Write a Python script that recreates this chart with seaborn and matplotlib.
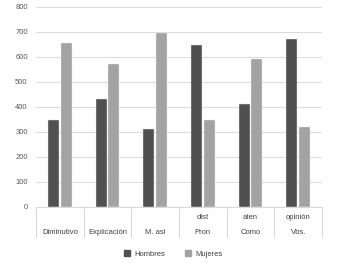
import matplotlib
matplotlib.use("Agg")
import matplotlib.pyplot as plt
import seaborn as sns
import pandas as pd
from matplotlib.transforms import blended_transform_factory
from matplotlib.lines import Line2D

categories = ["Diminutivo", "Explicación", "M. asi", "Pron", "Como", "Vbs."]
top_labels = ["", "", "", "dist", "aten", "opinión"]
hombres = [348, 430, 310, 648, 410, 672]
mujeres = [655, 570, 695, 348, 590, 320]
series = ["Hombres", "Mujeres"]
colors = ["#505050", "#a3a3a3"]

df = pd.DataFrame({
    "cat": categories * 2,
    "val": hombres + mujeres,
    "serie": [series[0]] * 6 + [series[1]] * 6,
})

sns.set_style("white")
plt.rcParams["font.family"] = ["Liberation Sans", "DejaVu Sans"]

W, H = 342, 263
fig, ax = plt.subplots(figsize=(W / 100, H / 100), dpi=100)
fig.subplots_adjust(left=36 / W, right=322 / W, top=1 - 6.5 / H, bottom=1 - 206.5 / H)

sns.barplot(data=df, x="cat", y="val", hue="serie", order=categories,
            hue_order=series, palette=colors, width=0.53, gap=0.12,
            edgecolor="#e8e8e8", linewidth=0.3, legend=False, ax=ax)

ax.set_ylim(0, 800)
ax.set_xlim(-0.5, 5.5)
ax.set_yticks(range(0, 801, 100))
ax.yaxis.grid(True, color="#dcdcdc", linewidth=0.8)
ax.set_axisbelow(True)
for s in ["top", "right", "left"]:
    ax.spines[s].set_visible(False)
ax.spines["bottom"].set_color("#d9d9d9")
ax.spines["bottom"].set_linewidth(0.8)
ax.set_xlabel("")
ax.set_ylabel("")
ax.tick_params(axis="y", length=0, labelsize=5.5, labelcolor="#595959", pad=6)
ax.tick_params(axis="x", length=0)
ax.set_xticklabels([f"{t}\n{c}" for t, c in zip(top_labels, categories)],
                   fontsize=5.5, color="#404040", linespacing=2.5)
ax.tick_params(axis="x", pad=5.5)

trans = blended_transform_factory(ax.transData, ax.transAxes)
for xb in [i - 0.5 for i in range(7)]:
    ax.plot([xb, xb], [0, -30 / 200], transform=trans, color="#d9d9d9",
            linewidth=0.8, clip_on=False)

handles = [Line2D([], [], marker="s", linestyle="", color=c, markersize=4) for c in colors]
fig.legend(handles, series, loc="center", bbox_to_anchor=(171 / W, 1 - 254 / H),
           ncol=2, frameon=False, fontsize=5.5, handletextpad=0.0,
           columnspacing=2.0, labelcolor="#404040")

fig.savefig("out.png", dpi=100)
